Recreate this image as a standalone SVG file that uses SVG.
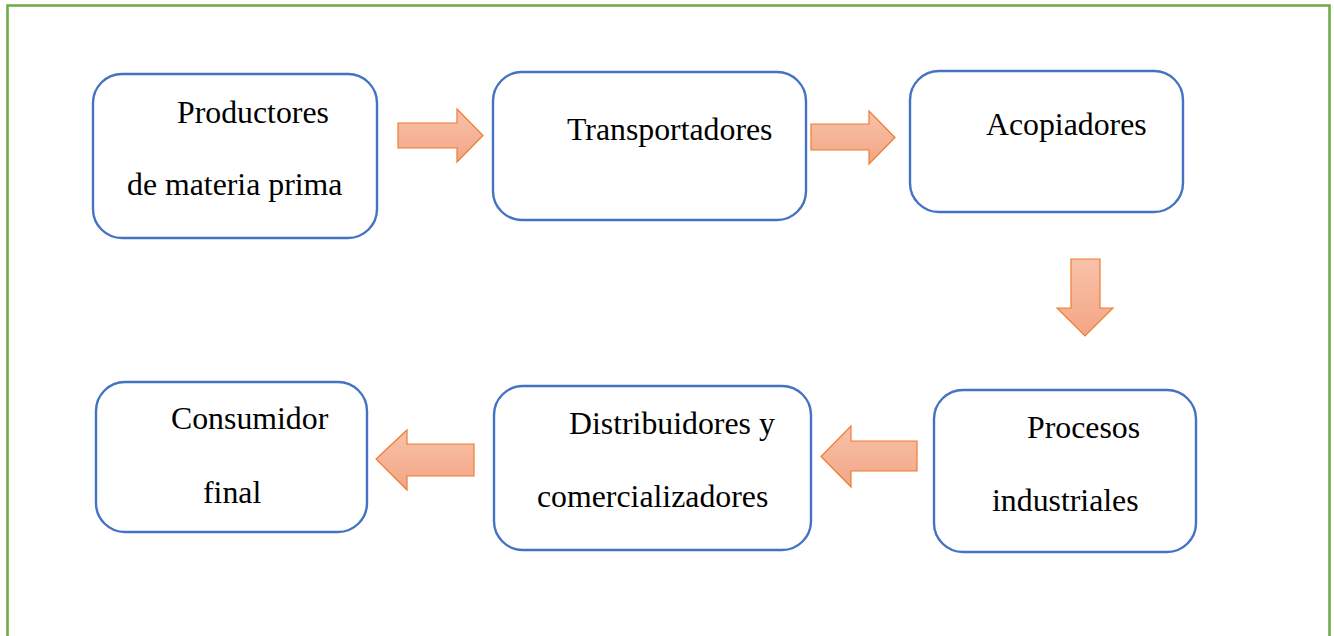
<svg xmlns="http://www.w3.org/2000/svg" width="1334" height="636" viewBox="0 0 1334 636">
<defs>
<linearGradient id="g" x1="0" y1="0" x2="0" y2="1">
<stop offset="0" stop-color="#F8C2AA"/>
<stop offset="1" stop-color="#F3A584"/>
</linearGradient>
<style>
.box{fill:#FFFFFF;stroke:#4472C4;stroke-width:2.4}
.arr{fill:url(#g);stroke:#ED7D31;stroke-width:1.2;stroke-linejoin:miter}
.t{font-family:"Liberation Serif","Times New Roman",serif;font-size:31.8px;fill:#000000}
</style>
</defs>
<rect x="0" y="0" width="1334" height="636" fill="#FFFFFF"/>
<rect x="7.5" y="5.5" width="1322" height="640" fill="none" stroke="#70AD47" stroke-width="2.6"/>
<g id="connectors">
<polygon class="arr" points="398,123 457,123 457,109 483,135.5 457,162 457,148 398,148"/>
<polygon class="arr" points="811,124 869,124 869,111 895,137.5 869,164 869,150 811,150"/>
<polygon class="arr" points="1071,259 1100,259 1100,308 1113,308 1085,336 1057,308 1071,308"/>
<polygon class="arr" points="917,441 851,441 851,426 821,456.5 851,487 851,471 917,471"/>
<polygon class="arr" points="474,444 407,444 407,430 376,459 407,490 407,476 474,476"/>
</g>
<g id="productores">
<rect class="box" x="93" y="74" width="284" height="164" rx="29"/>
<text class="t" x="177" y="123">Productores</text>
<text class="t" x="127" y="195">de materia prima</text>
</g>
<g id="transportadores">
<rect class="box" x="493" y="72" width="313" height="148" rx="29"/>
<text class="t" x="567" y="140">Transportadores</text>
</g>
<g id="acopiadores">
<rect class="box" x="910" y="71" width="273" height="141" rx="29"/>
<text class="t" x="986" y="135">Acopiadores</text>
</g>
<g id="procesos">
<rect class="box" x="934" y="390" width="262" height="162" rx="29"/>
<text class="t" x="1027" y="438">Procesos</text>
<text class="t" x="992" y="511">industriales</text>
</g>
<g id="distribuidores">
<rect class="box" x="494" y="386" width="317" height="164" rx="29"/>
<text class="t" x="569" y="434">Distribuidores y</text>
<text class="t" x="537" y="507">comercializadores</text>
</g>
<g id="consumidor">
<rect class="box" x="96" y="382" width="271" height="150" rx="29"/>
<text class="t" x="171" y="429">Consumidor</text>
<text class="t" x="203" y="503">final</text>
</g>
</svg>
